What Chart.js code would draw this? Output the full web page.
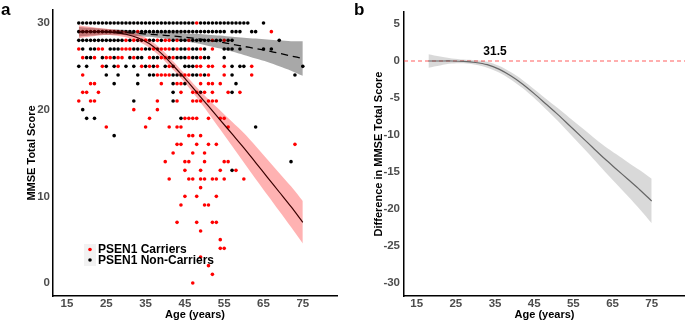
<!DOCTYPE html>
<html><head><meta charset="utf-8">
<script src="https://cdn.jsdelivr.net/npm/chart.js@4.4.1/dist/chart.umd.min.js"></script>
<style>
html,body{margin:0;padding:0;background:#fff;}
#wrap{position:relative;width:685px;height:322px;overflow:hidden;background:#fff;}
#ca{position:absolute;left:0;top:0;}
#cb{position:absolute;left:342px;top:0;}
.lbl{position:absolute;font-family:"Liberation Sans",Arial,sans-serif;font-weight:bold;font-size:17px;line-height:17px;color:#000;}
</style></head>
<body><div id="wrap">
<canvas id="ca" width="342" height="322"></canvas>
<canvas id="cb" width="343" height="322"></canvas>
<div class="lbl" style="left:1px;top:1px">a</div>
<div class="lbl" style="left:354px;top:1px">b</div>
</div>
<script>
// ---------- data ----------
const xTicks = [15, 25, 35, 45, 55, 65, 75];
const yTicksA = [0, 10, 20, 30];
const yTicksB = [5, 0, -5, -10, -15, -20, -25, -30];

const scoreLevels = [30,29,28,27,26,25,24,23,22,21,20,19,18,17,16,15,14,13,12,11,10,9,8,7,6,5,4,3,2,1,0];
const carrierAges = [
  [48],
  [33,67],
  [30,32,35,38,40,41,43,46,52,55],
  [18,23,24,29,30,31,34,37,39,40,41,43,46,49,52],
  [19,22,25,26,28,29,32,36,39,40,42,46,49],
  [24,28,34,36,38,41,48,49,51,52,55,62],
  [19,38,39,40,41,45,46,49,51,55,62],
  [21,22,39,43,44,49,51,52,54],
  [19,20,23,44,47,48,50,52,56,59],
  [18,21,22,38,43,47,48,49,51,52,53],
  [32,38],
  [36,45,46,47,48,51,54,55],
  [25,35,41,43,44,56],
  [46,47,49],
  [43,44,48,51,53,73],
  [42,47,50],
  [40,45,46,50,55,56],
  [45,49,54,58],
  [41,46,47,49,50,52,53,55,60],
  [49],
  [45,48,53],
  [44,50,51],
  [],
  [43,48,52,53],
  [49],
  [54],
  [54,55],
  [49],
  [51],
  [52],
  [47]
];
const nonCarrierAges = [
  [18,19,20,21,22,23,24,25,26,27,28,29,30,31,32,33,34,35,36,37,38,39,40,41,42,43,44,45,46,47,49,50,51,52,53,54,55,56,57,58,59,60,61,65],
  [18,19,20,21,22,23,24,25,26,27,28,29,30,31,32,34,35,36,37,38,39,40,41,42,43,44,45,46,47,48,49,50,51,52,53,54,55,57,58,59,62,63],
  [18,19,20,21,22,23,24,25,26,27,28,29,31,33,34,36,37,39,42,44,45,47,48,49,50,51,53,54,56,57,69],
  [19,21,22,26,27,28,32,33,35,36,38,42,44,45,47,48,50,55,56,57,59,65,67],
  [20,21,24,27,31,33,34,37,38,41,43,44,45,47,48,50,51,55],
  [18,20,25,27,30,32,35,37,40,42,45,46,47,57,59,60,75],
  [25,28,33,36,37,42,43,44,47,48,50,57,73],
  [27,33,42,45,58],
  [42,49,57],
  [32,42],
  [19],
  [20,22,44],
  [63],
  [27],
  [], [], [72], [57],
  [], [], [], [], [], [], [], [], [], [], [], [], []
];

// fitted curves (panel a) and difference (panel b)
const fitAges        = [18, 21, 24, 27, 30, 33, 36, 39, 42, 45, 48, 51, 54, 57, 60, 63, 66, 69, 72, 75];
const carrierFit     = [29.0, 29.0, 29.0, 28.9, 28.7, 28.3, 27.6, 26.5, 25.1, 23.6, 22.0, 20.4, 18.8, 17.2, 15.6, 13.9, 12.2, 10.5, 8.8, 7.0];
const carrierUpper   = [29.75, 29.55, 29.4, 29.25, 29.05, 28.7, 28.05, 27.0, 25.6, 24.1, 22.6, 21.2, 19.9, 18.6, 17.3, 15.8, 14.25, 12.7, 11.15, 9.45];
const carrierLower   = [28.25, 28.45, 28.6, 28.55, 28.35, 27.9, 27.15, 26.0, 24.6, 23.1, 21.4, 19.6, 17.7, 15.8, 13.9, 12.0, 10.15, 8.3, 6.45, 4.55];
const nonCarrierFit   = [29.0, 29.0, 29.0, 28.95, 28.9, 28.8, 28.7, 28.6, 28.5, 28.35, 28.2, 28.0, 27.8, 27.55, 27.3, 27.05, 26.8, 26.5, 26.2, 25.9];
const nonCarrierUpper = [29.55, 29.45, 29.35, 29.25, 29.2, 29.1, 29.0, 28.95, 28.9, 28.8, 28.75, 28.65, 28.55, 28.4, 28.3, 28.2, 28.1, 28.0, 27.9, 27.9];
const nonCarrierLower = [28.45, 28.55, 28.65, 28.65, 28.6, 28.5, 28.4, 28.25, 28.1, 27.9, 27.65, 27.35, 27.05, 26.7, 26.3, 25.9, 25.5, 25.0, 24.5, 23.9];
const diffFit   = [0.0, 0.0, 0.0, -0.05, -0.2, -0.5, -1.1, -2.0, -3.1, -4.4, -5.8, -7.2, -8.7, -10.2, -11.7, -13.2, -14.6, -16.0, -17.4, -18.9];
const diffUpper = [0.9, 0.6, 0.35, 0.2, 0.1, -0.1, -0.65, -1.5, -2.55, -3.8, -5.1, -6.35, -7.65, -8.95, -10.25, -11.5, -12.6, -13.7, -14.75, -15.9];
const diffLower = [-0.9, -0.6, -0.35, -0.3, -0.5, -0.9, -1.55, -2.5, -3.65, -5.0, -6.5, -8.05, -9.75, -11.45, -13.15, -14.9, -16.6, -18.3, -20.05, -21.9];

const thresholdAge = 31.5;
const thresholdLabelY = 1.35;
const zeroLineY = 0;

// axis limits
const xMinA = 11.44, xMaxA = 83.7, yMinA = -1.5, yMaxA = 31.5;
const xMinB = 11.76, xMaxB = 83.5, yMinB = -31.71, yMaxB = 6.61;

// ---------- helpers ----------
const FONT = '"Liberation Sans", Arial, Helvetica, sans-serif';
const tickFont = {family: FONT, size: 11.5, weight: 'bold'};
const titleFont = {family: FONT, size: 11, weight: 'bold'};

function rowsToPoints(levels, agesByScore) {
  const out = [];
  levels.forEach((s, i) => agesByScore[i].forEach(a => out.push({x: a, y: s})));
  return out;
}
function curve(xs, ys) { return xs.map((x, i) => ({x: x, y: ys[i]})); }

function xScale(min, max) {
  return {
    type: 'linear', min: min, max: max,
    afterBuildTicks: s => { s.ticks = xTicks.map(v => ({value: v})); },
    afterFit: s => { s.height = 26; },
    grid: {display: false, drawTicks: false, tickLength: 0},
    border: {display: true, color: '#000', width: 1.5},
    ticks: {font: tickFont, color: '#4D4D4D', padding: 1, maxRotation: 0, autoSkip: false},
    title: {display: true, text: 'Age (years)', font: titleFont, color: '#000', padding: {top: 0, bottom: 0}}
  };
}
function yScale(min, max, ticksArr, width, title, titlePad, tickPad) {
  return {
    type: 'linear', min: min, max: max,
    afterBuildTicks: s => { s.ticks = ticksArr.map(v => ({value: v})); },
    afterFit: s => { s.width = width; },
    grid: {display: false, drawTicks: false, tickLength: 0},
    border: {display: true, color: '#000', width: 1.5},
    ticks: {font: tickFont, color: '#4D4D4D', padding: tickPad, autoSkip: false},
    title: {display: true, text: title, font: titleFont, color: '#000', padding: {top: titlePad, bottom: 0}}
  };
}
const lineBase = {type: 'line', pointRadius: 0, tension: 0.3, fill: false};
const bandEdge = {type: 'line', pointRadius: 0, tension: 0.3, borderWidth: 0, borderColor: 'rgba(0,0,0,0)'};

// ---------- panel a ----------
const legendA = {
  id: 'legendA',
  afterDraw(chart) {
    const ctx = chart.ctx, ca = chart.chartArea;
    const kx = ca.left + 31, ky = ca.bottom - 52;
    ctx.save();
    ctx.fillStyle = '#F2F2F2';
    ctx.fillRect(kx, ky, 12, 22);
    const items = [
      {c: chart.data.datasets[6].backgroundColor, t: chart.data.datasets[6].label},
      {c: chart.data.datasets[7].backgroundColor, t: chart.data.datasets[7].label}
    ];
    ctx.font = 'bold 12px ' + FONT;
    ctx.textBaseline = 'middle';
    ctx.textAlign = 'left';
    items.forEach((it, i) => {
      const cy = ky + 5.5 + i * 10.5;
      ctx.fillStyle = it.c;
      ctx.beginPath(); ctx.arc(kx + 6, cy, 1.8, 0, Math.PI * 2); ctx.fill();
      ctx.fillStyle = '#000';
      ctx.fillText(it.t, kx + 14, cy + 0.5);
    });
    ctx.restore();
  }
};

new Chart(document.getElementById('ca'), {
  type: 'scatter',
  data: {datasets: [
    Object.assign({}, lineBase, {data: curve(fitAges, carrierFit), borderColor: '#3a0000', borderWidth: 1.2, order: 0}),
    Object.assign({}, lineBase, {data: curve(fitAges, nonCarrierFit), borderColor: '#000', borderWidth: 1.3, borderDash: [7, 5], order: 0}),
    Object.assign({}, bandEdge, {data: curve(fitAges, carrierUpper), fill: '+1', backgroundColor: 'rgba(255,0,0,0.3)', order: 1}),
    Object.assign({}, bandEdge, {data: curve(fitAges, carrierLower), fill: false, order: 1}),
    Object.assign({}, bandEdge, {data: curve(fitAges, nonCarrierUpper), fill: '+1', backgroundColor: 'rgba(0,0,0,0.34)', order: 1}),
    Object.assign({}, bandEdge, {data: curve(fitAges, nonCarrierLower), fill: false, order: 1}),
    {label: 'PSEN1 Carriers', data: rowsToPoints(scoreLevels, carrierAges), backgroundColor: '#FF0000', borderWidth: 0, pointRadius: 1.8, order: 2},
    {label: 'PSEN1 Non-Carriers', data: rowsToPoints(scoreLevels, nonCarrierAges), backgroundColor: '#000000', borderWidth: 0, pointRadius: 1.8, order: 3}
  ]},
  options: {
    responsive: false, animation: false, devicePixelRatio: 1, events: [],
    layout: {padding: {left: 0, right: 5, top: 10, bottom: 0}},
    plugins: {legend: {display: false}, tooltip: {enabled: false}},
    scales: {
      x: xScale(xMinA, xMaxA),
      y: yScale(yMinA, yMaxA, yTicksA, 53, 'MMSE Total Score', 25, 3)
    }
  },
  plugins: [legendA]
});

// ---------- panel b ----------
const labelB = {
  id: 'labelB',
  afterDatasetsDraw(chart) {
    const ctx = chart.ctx, xs = chart.scales.x, ys = chart.scales.y;
    ctx.save();
    ctx.font = 'bold 12px ' + FONT;
    ctx.fillStyle = '#000';
    ctx.textAlign = 'left';
    ctx.textBaseline = 'middle';
    ctx.fillText(String(thresholdAge), xs.getPixelForValue(thresholdAge) + 2, ys.getPixelForValue(thresholdLabelY) + 1);
    ctx.restore();
  }
};

new Chart(document.getElementById('cb'), {
  type: 'scatter',
  data: {datasets: [
    Object.assign({}, lineBase, {data: curve(fitAges, diffFit), borderColor: '#666666', borderWidth: 1.2, order: 0}),
    Object.assign({}, bandEdge, {data: curve(fitAges, diffUpper), fill: '+1', backgroundColor: 'rgba(0,0,0,0.15)', order: 1}),
    Object.assign({}, bandEdge, {data: curve(fitAges, diffLower), fill: false, order: 1}),
    Object.assign({}, lineBase, {tension: 0, data: [{x: xMinB, y: zeroLineY}, {x: xMaxB, y: zeroLineY}], borderColor: 'rgba(255,60,60,0.55)', borderWidth: 1.3, borderDash: [4, 3], order: 2})
  ]},
  options: {
    responsive: false, animation: false, devicePixelRatio: 1, events: [],
    layout: {padding: {left: 0, right: 0, top: 12, bottom: 0}},
    plugins: {legend: {display: false}, tooltip: {enabled: false}},
    scales: {
      x: xScale(xMinB, xMaxB),
      y: yScale(yMinB, yMaxB, yTicksB, 62, 'Difference in MMSE Total Score', 30.5, 4)
    }
  },
  plugins: [labelB]
});
</script>
</body></html>
